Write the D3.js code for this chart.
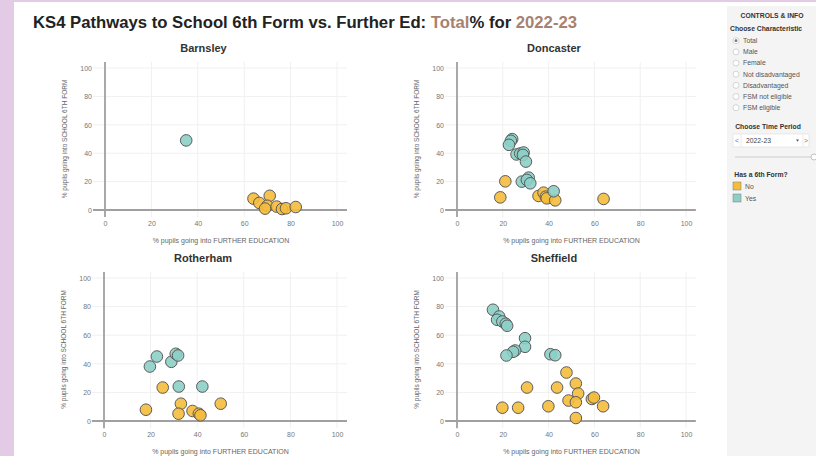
<!DOCTYPE html>
<html>
<head>
<meta charset="utf-8">
<script src="https://cdn.jsdelivr.net/npm/d3@7"></script>
<style>
  body { margin: 0; background: #fff; }
  svg { display: block; font-family: "Liberation Sans", Arial, sans-serif; }
</style>
</head>
<body>
<svg id="chart" width="816" height="456"></svg>
<script>
// ---- data ----
const areas = ["Barnsley", "Doncaster", "Rotherham", "Sheffield"];
const sixthFormGroups = ["No", "Yes"];
const axisTicks = [0, 20, 40, 60, 80, 100];
const characteristics = ["Total", "Male", "Female", "Not disadvantaged", "Disadvantaged", "FSM not eligible", "FSM eligible"];
const timePeriod = "2022-23";

// [further education %, school 6th form %]
const barnsleyNo = [[64, 8], [66.5, 5], [71, 10], [70, 3], [69, 1], [74, 2.4], [76.3, 0.7], [78, 1.2], [82.2, 2.1]];
const barnsleyYes = [[35, 49]];
const doncasterNo = [[21.1, 20.2], [18.9, 8.9], [35.6, 9.9], [37.8, 12.2], [38.8, 9.4], [39.2, 8.2], [42.9, 6.8], [64, 7.8]];
const doncasterYes = [[24.1, 49.9], [23.5, 48.7], [22.7, 45.9], [26, 39.1], [27.6, 39.8], [29.1, 40.5], [28.8, 38.8], [30.1, 34.1],
  [28.3, 20], [31.3, 22.8], [30.5, 21.2], [32, 18.8], [42.2, 13.2]];
const rotherhamNo = [[25.2, 23.4], [18, 7.9], [33, 12.1], [32, 5.1], [38, 7], [40.7, 5.1], [41.4, 4], [50.1, 12.1]];
const rotherhamYes = [[22.7, 45.1], [19.7, 38.1], [28.9, 41.4], [30.8, 47], [31.8, 45.8], [32.1, 24.1], [42.2, 24.1]];
const sheffieldNo = [[47.8, 33.9], [30.6, 23.4], [43.7, 23.4], [51.9, 26.2], [52.9, 19.2], [48.7, 14.3], [51.9, 13.1], [58.9, 15.4],
  [59.8, 16.4], [63.8, 10.3], [39.9, 10.3], [19.8, 9.3], [26.7, 9.3], [51.9, 2.1]];
const sheffieldYes = [[15.7, 77.8], [18.4, 73.1], [17.5, 70.8], [19.8, 69.6], [21.3, 68], [21.9, 66.6], [29.7, 57.9], [29.7, 51.9],
  [25.4, 49.3], [24.5, 48.4], [21.6, 45.8], [40.8, 46.7], [42.9, 46]];

const pointsByArea = {
  Barnsley: {No: barnsleyNo, Yes: barnsleyYes},
  Doncaster: {No: doncasterNo, Yes: doncasterYes},
  Rotherham: {No: rotherhamNo, Yes: rotherhamYes},
  Sheffield: {No: sheffieldNo, Yes: sheffieldYes}
};

const colour = d3.scaleOrdinal().domain(sixthFormGroups).range(["#f5bc3c", "#8ccfc7"]);
const brown = "#a88270";

const svg = d3.select("#chart");

// frame
svg.append("rect").attr("width", 816).attr("height", 456).attr("fill", "#e3cbe6");
svg.append("rect").attr("x", 14).attr("y", 2).attr("width", 802).attr("height", 454).attr("fill", "#fff");
svg.append("rect").attr("x", 727).attr("y", 6).attr("width", 89).attr("height", 450).attr("fill", "#f4f4f4");

// title
const title = svg.append("text").attr("x", 33).attr("y", 28)
  .style("font-size", "16.7px").style("font-weight", "bold").attr("fill", "#222");
title.append("tspan").text("KS4 Pathways to School 6th Form vs. Further Ed: ");
title.append("tspan").attr("fill", brown).text("Total");
title.append("tspan").text("% for ");
title.append("tspan").attr("fill", brown).text(timePeriod);

// panel layout: x0 = pixel of 0, x100 = pixel of 100 etc.
const panels = [
  {x0: 105, x100: 337, y0: 210, y100: 68, titleY: 52},
  {x0: 457, x100: 686, y0: 210, y100: 68, titleY: 52},
  {x0: 104, x100: 337, y0: 421, y100: 278, titleY: 262},
  {x0: 457, x100: 686, y0: 421, y100: 278, titleY: 262}
];

areas.forEach(function (area, i) {
  const p = panels[i];
  const x = d3.scaleLinear().domain([0, 100]).range([p.x0, p.x100]);
  const y = d3.scaleLinear().domain([0, 100]).range([p.y0, p.y100]);
  const xMin = x(-5.2), xMax = x(104.3), yTop = y(104.2), yBot = y(-5);

  const g = svg.append("g");

  // gridlines
  g.selectAll(".vgrid").data(axisTicks.slice(1)).enter().append("line")
    .attr("x1", d => x(d)).attr("x2", d => x(d)).attr("y1", yTop).attr("y2", yBot)
    .attr("stroke", "#f0f0f0").attr("stroke-width", 1);
  g.selectAll(".hgrid").data(axisTicks.slice(1)).enter().append("line")
    .attr("x1", xMin).attr("x2", xMax).attr("y1", d => y(d)).attr("y2", d => y(d))
    .attr("stroke", "#f0f0f0").attr("stroke-width", 1);

  // zero lines
  g.append("line").attr("x1", xMin).attr("x2", xMax).attr("y1", y(0)).attr("y2", y(0))
    .attr("stroke", "#a0a0a0").attr("stroke-width", 1.8);
  g.append("line").attr("x1", x(0)).attr("x2", x(0)).attr("y1", yTop).attr("y2", yBot)
    .attr("stroke", "#a0a0a0").attr("stroke-width", 1.8);

  // tick labels via d3 axes
  const xAxis = g.append("g").attr("transform", "translate(0," + (y(0) + 8) + ")")
    .call(d3.axisBottom(x).tickValues(axisTicks).tickSize(0).tickPadding(3));
  const yAxis = g.append("g").attr("transform", "translate(" + (x(0) - 10) + ",0)")
    .call(d3.axisLeft(y).tickValues(axisTicks).tickSize(0).tickPadding(3));
  [xAxis, yAxis].forEach(function (a) {
    a.select(".domain").remove();
    a.selectAll("text").attr("fill", "#777").style("font-size", "7px").style("font-family", "Liberation Sans, Arial, sans-serif");
  });

  // axis titles
  g.append("text").attr("x", (x(0) + x(100)) / 2).attr("y", y(0) + 33)
    .attr("text-anchor", "middle").style("font-size", "7px").attr("fill", "#666")
    .text("% pupils going into FURTHER EDUCATION");
  g.append("text").attr("transform", "translate(" + (x(0) - 38) + "," + ((y(0) + y(100)) / 2) + ") rotate(-90)")
    .attr("text-anchor", "middle").style("font-size", "6.5px").attr("fill", "#666")
    .text("% pupils going into SCHOOL 6TH FORM");

  // panel title
  g.append("text").attr("x", (x(0) - 45 + xMax) / 2).attr("y", p.titleY)
    .attr("text-anchor", "middle").style("font-size", "11px").style("font-weight", "bold").attr("fill", "#333")
    .text(area);

  // points
  sixthFormGroups.forEach(function (grp) {
    g.selectAll(".pt-" + grp).data(pointsByArea[area][grp]).enter().append("circle")
      .attr("cx", d => x(d[0])).attr("cy", d => y(d[1])).attr("r", 5.8)
      .attr("fill", colour(grp)).attr("fill-opacity", 0.9)
      .attr("stroke", "#5a5a5a").attr("stroke-width", 1);
  });
});

// ---- right side controls ----
const c = svg.append("g").style("font-size", "6.8px").attr("fill", "#333");
c.append("text").attr("x", 772).attr("y", 18).attr("text-anchor", "middle").style("font-weight", "bold").text("CONTROLS & INFO");
c.append("text").attr("x", 730).attr("y", 31).style("font-weight", "bold").text("Choose Characteristic");
const radioY = d3.scalePoint().domain(characteristics).range([43, 110]);
characteristics.forEach(function (ch, i) {
  c.append("circle").attr("cx", 736).attr("cy", radioY(ch) - 2.3).attr("r", 3)
    .attr("fill", "#fff").attr("stroke", "#bbb").attr("stroke-width", 0.6);
  if (i === 0) c.append("circle").attr("cx", 736).attr("cy", radioY(ch) - 2.3).attr("r", 1.4).attr("fill", "#777");
  c.append("text").attr("x", 743).attr("y", radioY(ch)).attr("fill", "#555").text(ch);
});
c.append("text").attr("x", 768).attr("y", 129).attr("text-anchor", "middle").style("font-weight", "bold").text("Choose Time Period");
c.append("rect").attr("x", 733).attr("y", 134).attr("width", 76).attr("height", 13).attr("fill", "#fff").attr("stroke", "#ddd").attr("stroke-width", 0.6);
c.append("line").attr("x1", 741).attr("x2", 741).attr("y1", 134).attr("y2", 147).attr("stroke", "#ddd").attr("stroke-width", 0.6);
c.append("line").attr("x1", 803).attr("x2", 803).attr("y1", 134).attr("y2", 147).attr("stroke", "#ddd").attr("stroke-width", 0.6);
c.append("text").attr("x", 737).attr("y", 143).attr("text-anchor", "middle").attr("fill", "#777").text("<");
c.append("text").attr("x", 806).attr("y", 143).attr("text-anchor", "middle").attr("fill", "#777").text(">");
c.append("text").attr("x", 746).attr("y", 143).attr("fill", "#444").text(timePeriod);
c.append("path").attr("d", "M796,139.5 l3,0 l-1.5,2.2 z").attr("fill", "#555");
c.append("line").attr("x1", 735).attr("x2", 812).attr("y1", 157).attr("y2", 157).attr("stroke", "#ccc").attr("stroke-width", 1.2);
c.append("circle").attr("cx", 814).attr("cy", 157).attr("r", 3).attr("fill", "#fff").attr("stroke", "#aaa").attr("stroke-width", 0.7);

c.append("text").attr("x", 761).attr("y", 177).attr("text-anchor", "middle").style("font-weight", "bold").text("Has a 6th Form?");
sixthFormGroups.forEach(function (grp, i) {
  c.append("rect").attr("x", 733).attr("y", 182 + i * 12).attr("width", 8).attr("height", 8)
    .attr("fill", colour(grp)).attr("stroke", "#777").attr("stroke-width", 0.5);
  c.append("text").attr("x", 745).attr("y", 188.5 + i * 12).attr("fill", "#555").text(grp);
});
</script>
</body>
</html>
